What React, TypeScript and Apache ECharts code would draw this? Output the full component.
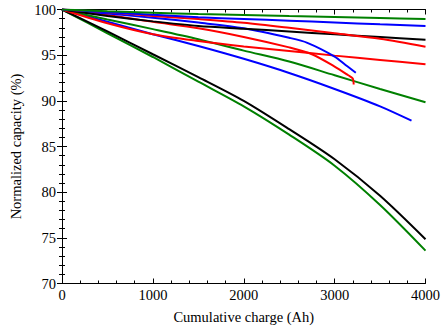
import React, { useEffect, useRef } from "react";
import * as echarts from "echarts";

const greenTop: [number, number][] = [[0,100],[500,99.82],[1000,99.65],[1500,99.5],[2000,99.4],[2500,99.28],[3000,99.17],[3500,99.06],[4000,98.96]];
const blueTop: [number, number][] = [[0,100],[500,99.7],[1000,99.43],[1500,99.15],[2000,98.96],[2500,98.77],[3000,98.58],[3500,98.38],[4000,98.19]];
const redA: [number, number][] = [[0,100],[500,99.7],[1000,99.3],[1500,98.95],[2000,98.55],[2500,98.0],[3000,97.4],[3500,96.8],[4000,95.93]];
const blackTop: [number, number][] = [[0,100],[500,99.3],[1000,98.7],[1500,98.2],[2000,97.9],[2500,97.6],[3000,97.28],[3500,96.98],[4000,96.68]];
const blueCurve: [number, number][] = [[0,100],[500,99.55],[1000,99.1],[1500,98.57],[2000,97.95],[2500,96.9],[2700,96.35],[3000,94.85],[3120,93.92],[3233,93.08]];
const redCurve: [number, number][] = [[0,100],[500,99.4],[1000,98.65],[1500,97.95],[2000,97.0],[2500,95.85],[2750,95.1],[3000,93.75],[3150,92.8],[3200,92.45],[3210,91.8]];
const redB: [number, number][] = [[0,100],[500,98.5],[1000,97.3],[1500,96.55],[2000,95.95],[2500,95.45],[3000,94.95],[3500,94.48],[4000,94.0]];
const greenMid: [number, number][] = [[0,100],[500,98.9],[1000,97.85],[1500,96.75],[2000,95.5],[2500,94.3],[3000,92.8],[3500,91.3],[4000,89.84]];
const blueLow: [number, number][] = [[0,100],[500,98.65],[1000,97.3],[1500,96.0],[2000,94.6],[2500,93.05],[3000,91.3],[3500,89.4],[3846,87.83]];
const blackLow: [number, number][] = [[0,100],[500,97.6],[1000,95.1],[1500,92.6],[2000,90.0],[2500,86.9],[3000,83.6],[3500,79.6],[4000,74.84]];
const greenLow: [number, number][] = [[0,100],[500,97.4],[1000,94.8],[1500,92.1],[2000,89.4],[2500,86.3],[3000,82.9],[3500,78.6],[4000,73.6]];

const GREEN = "#008000";
const BLUE = "#0000ff";
const RED = "#ff0000";
const BLACK = "#000000";

const seriesDefs: { data: [number, number][]; color: string }[] = [
  { data: greenLow, color: GREEN },
  { data: blackLow, color: BLACK },
  { data: blueLow, color: BLUE },
  { data: greenMid, color: GREEN },
  { data: redB, color: RED },
  { data: redCurve, color: RED },
  { data: blueCurve, color: BLUE },
  { data: blackTop, color: BLACK },
  { data: redA, color: RED },
  { data: blueTop, color: BLUE },
  { data: greenTop, color: GREEN },
];

const FONT = "'Liberation Serif', 'Times New Roman', serif";

export default function App() {
  const ref = useRef<HTMLDivElement>(null);
  useEffect(() => {
    if (!ref.current) return;
    const chart = echarts.init(ref.current, undefined, { renderer: "svg" });
    const axisCommon = {
      type: "value" as const,
      axisLine: { show: true, lineStyle: { color: "#000", width: 1 } },
      axisTick: { show: true, inside: false, length: -5, lineStyle: { color: "#000" } },
      minorTick: { show: true, splitNumber: 5, length: -3, lineStyle: { color: "#000" } },
      splitLine: { show: false },
      minorSplitLine: { show: false },
    };
    chart.setOption({
      animation: false,
      textStyle: { fontFamily: FONT },
      grid: { left: 62, right: 16, top: 9.5, bottom: 46.5, containLabel: false },
      xAxis: [
        {
          ...axisCommon,
          min: 0, max: 4000, interval: 1000,
          position: "bottom",
          axisLabel: { color: "#000", fontFamily: FONT, fontSize: 14.5, margin: 4, formatter: (v: number) => String(v) },
          name: "Cumulative charge (Ah)",
          nameLocation: "middle",
          nameGap: 26,
          nameTextStyle: { color: "#000", fontFamily: FONT, fontSize: 14.5 },
        },
        {
          ...axisCommon,
          min: 0, max: 4000, interval: 1000,
          position: "top",
          axisLabel: { show: false },
        },
      ],
      yAxis: [
        {
          ...axisCommon,
          min: 70, max: 100, interval: 5,
          position: "left",
          axisLabel: { color: "#000", fontFamily: FONT, fontSize: 14.5, margin: 6, formatter: (v: number) => String(v) },
          name: "Normalized capacity (%)",
          nameLocation: "middle",
          nameGap: 38,
          nameRotate: 90,
          nameTextStyle: { color: "#000", fontFamily: FONT, fontSize: 14.5 },
        },
        {
          ...axisCommon,
          min: 70, max: 100, interval: 5,
          position: "right",
          axisLabel: { show: false },
        },
      ],
      series: seriesDefs.map((s) => ({
        type: "line",
        data: s.data,
        showSymbol: false,
        symbol: "none",
        smooth: 0.3,
        lineStyle: { color: s.color, width: 2 },
        itemStyle: { color: s.color },
        clip: true,
      })),
    });
    return () => chart.dispose();
  }, []);
  return <div ref={ref} style={{ width: 443, height: 330, position: "absolute", left: 0, top: 0 }} />;
}
